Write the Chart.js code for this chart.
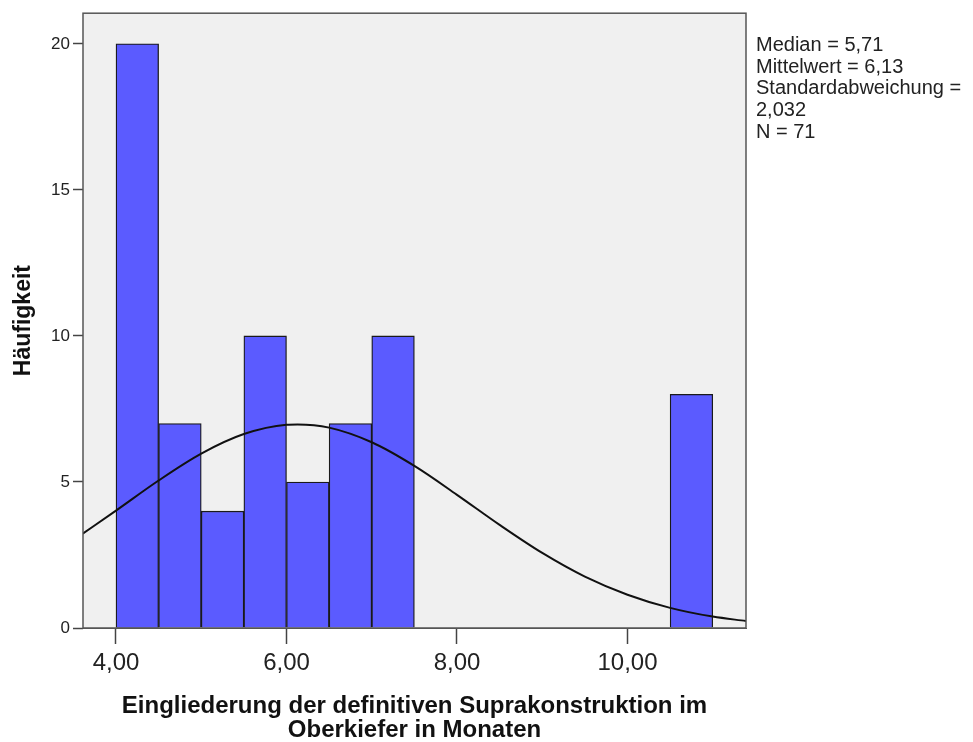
<!DOCTYPE html>
<html>
<head>
<meta charset="utf-8">
<script src="https://cdn.jsdelivr.net/npm/chart.js@4/dist/chart.umd.min.js"></script>
<style>
  body { margin: 0; background: #fff; }
  #wrap { position: relative; width: 973px; height: 742px; }
  #stats {
    position: absolute; left: 756px; top: 34px;
    font: 20px "Liberation Sans", Arial, sans-serif;
    line-height: 21.7px; color: #222; white-space: nowrap;
  }
</style>
</head>
<body>
<div id="wrap">
  <canvas id="histChart" width="973" height="742"></canvas>
  <div id="stats"></div>
</div>
<script>
// Histogram bins (bin centres, width 0.5) and counts
const binCenters = [4.25, 4.75, 5.25, 5.75, 6.25, 6.75, 7.25, 10.75];
const binCounts = [20, 7, 4, 10, 5, 7, 10, 8];

// Normal curve
const curveX = [3.61, 4.0, 4.5, 5.0, 5.5, 6.0, 6.13, 6.5, 7.0, 7.5, 8.0, 8.5, 9.0, 9.5, 10.0, 10.5, 11.0, 11.39];
const curveY = [3.23, 4.02, 5.05, 5.97, 6.64, 6.96, 6.97, 6.86, 6.36, 5.55, 4.56, 3.53, 2.57, 1.76, 1.14, 0.69, 0.39, 0.24];

// Axis ticks
const xTickValues = [4, 6, 8, 10];
const xTickLabels = ['4,00', '6,00', '8,00', '10,00'];
const yTickValues = [0, 5, 10, 15, 20];
const yTickLabels = ['0', '5', '10', '15', '20'];

const statLines = ['Median = 5,71', 'Mittelwert = 6,13', 'Standardabweichung =', '2,032', 'N = 71'];

document.getElementById('stats').innerHTML = statLines.join('<br>');

const FONT = '"Liberation Sans", Arial, sans-serif';

// Grey plot background and frame
const plotFrame = {
  id: 'plotFrame',
  beforeDatasetsDraw(chart) {
    const { ctx, chartArea: a } = chart;
    ctx.save();
    ctx.fillStyle = '#f0f0f0';
    ctx.fillRect(a.left, a.top, a.right - a.left, a.bottom - a.top);
    ctx.restore();
  },
  afterDraw(chart) {
    const { ctx, chartArea: a } = chart;
    ctx.save();
    ctx.strokeStyle = '#555';
    ctx.lineWidth = 1.5;
    ctx.strokeRect(a.left, a.top, a.right - a.left, a.bottom - a.top);
    ctx.restore();
  }
};

new Chart(document.getElementById('histChart'), {
  type: 'bar',
  data: {
    datasets: [
      {
        type: 'line',
        data: curveX.map((x, i) => ({ x: x, y: curveY[i] })),
        borderColor: '#111',
        borderWidth: 2,
        pointRadius: 0,
        cubicInterpolationMode: 'monotone',
        order: 0
      },
      {
        type: 'bar',
        data: binCenters.map((x, i) => ({ x: x, y: binCounts[i] })),
        backgroundColor: '#5b5bff',
        borderColor: '#1a1a1a',
        borderWidth: 1.3,
        borderSkipped: 'bottom',
        barPercentage: 1,
        categoryPercentage: 1,
        order: 1
      }
    ]
  },
  options: {
    responsive: false,
    animation: false,
    layout: { padding: { left: 0, top: 11, right: 227, bottom: 0 } },
    plugins: {
      legend: { display: false },
      tooltip: { enabled: false }
    },
    scales: {
      x: {
        type: 'linear',
        offset: false,
        min: 3.613,
        max: 11.39,
        afterBuildTicks(scale) {
          scale.ticks = xTickValues.map(v => ({ value: v }));
        },
        afterFit(scale) { scale.height = 114; },
        grid: {
          offset: false,
          drawOnChartArea: false,
          drawTicks: true,
          tickLength: 16,
          tickColor: '#444',
          tickWidth: 1.5
        },
        border: { display: true, color: '#555' },
        ticks: {
          padding: 5,
          color: '#222',
          font: { family: FONT, size: 24 },
          callback: (v, i) => xTickLabels[i]
        },
        title: {
          display: true,
          text: ['Eingliederung der definitiven Suprakonstruktion im', 'Oberkiefer in Monaten'],
          color: '#111',
          font: { family: FONT, size: 24, weight: 'bold', lineHeight: 1.0 },
          padding: { top: 0, bottom: 0 }
        }
      },
      y: {
        min: 0,
        max: 21.05,
        afterBuildTicks(scale) {
          scale.ticks = yTickValues.map(v => ({ value: v }));
        },
        afterFit(scale) { scale.width = 83; },
        grid: {
          offset: false,
          drawOnChartArea: false,
          drawTicks: true,
          tickLength: 10,
          tickColor: '#444',
          tickWidth: 1.5
        },
        border: { display: true, color: '#555' },
        ticks: {
          padding: 3,
          color: '#222',
          font: { family: FONT, size: 17 },
          callback: (v, i) => yTickLabels[i]
        },
        title: {
          display: true,
          text: 'Häufigkeit',
          color: '#111',
          font: { family: FONT, size: 23, weight: 'bold' },
          padding: { top: 10, bottom: 0 }
        }
      }
    }
  },
  plugins: [plotFrame]
});
</script>
</body>
</html>
